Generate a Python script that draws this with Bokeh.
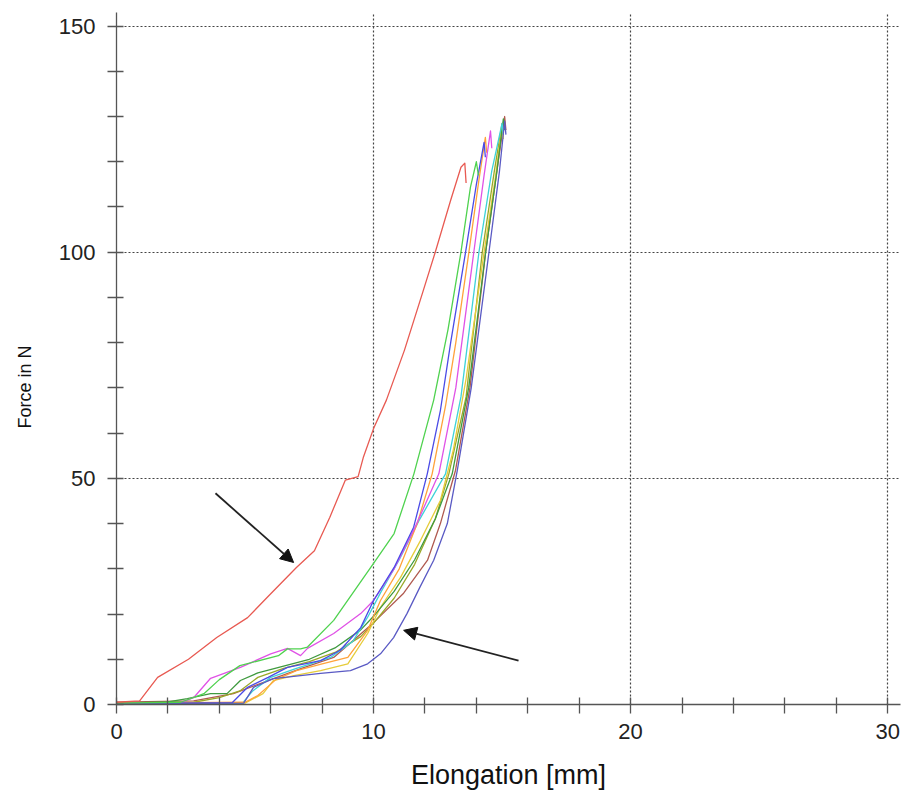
import math
from bokeh.plotting import figure
from bokeh.models import FixedTicker, Range1d, Title, Arrow, NormalHead
from bokeh.embed import file_html
from bokeh.resources import INLINE

# ---- data ----
x_ticks = [0, 10, 20, 30]
x_minor = [2, 4, 6, 8, 12, 14, 16, 18, 22, 24, 26, 28]
y_ticks = [0, 50, 100, 150]
y_minor = [10, 20, 30, 40, 60, 70, 80, 90, 110, 120, 130, 140]

red_x = [0, 0.9, 1.6, 2.8, 3.9, 5.1, 6.0, 7.0, 7.7, 8.3, 8.9, 9.4, 9.6, 10.0, 10.5, 11.2, 11.9, 12.4, 13.0, 13.4, 13.55, 13.6]
red_y = [0.5, 0.8, 6.0, 10.0, 14.8, 19.2, 24.5, 30.3, 34.0, 41.4, 49.6, 50.4, 54.6, 61.0, 67.3, 78.3, 90.9, 100.0, 111.5, 118.8, 119.7, 115.3]

green_x = [0, 2.5, 3.4, 4.0, 4.8, 6.3, 6.65, 7.16, 7.43, 8.45, 10.0, 10.8, 11.57, 12.34, 12.9, 13.4, 13.77, 14.0, 14.08]
green_y = [0.3, 0.5, 2.4, 5.5, 8.6, 10.8, 12.3, 12.3, 12.7, 18.6, 31.2, 37.8, 51.0, 67.3, 83.0, 100.0, 114.4, 120.0, 117.0]

magenta_x = [0, 2.5, 3.0, 3.66, 4.82, 6.0, 6.65, 7.16, 7.43, 8.45, 9.5, 10.0, 10.8, 11.6, 12.54, 13.2, 13.9, 14.3, 14.55, 14.6]
magenta_y = [0.2, 0.4, 1.5, 5.8, 8.2, 11.2, 12.4, 10.8, 12.4, 15.7, 20.1, 23.0, 30.0, 39.0, 51.0, 70.0, 100.0, 117.0, 126.8, 123.0]

blue_x = [0, 4.5, 5.1, 5.9, 6.65, 7.94, 8.7, 9.5, 10.0, 10.8, 11.56, 12.09, 12.6, 13.0, 13.58, 14.0, 14.3, 14.35]
blue_y = [0.2, 0.4, 3.8, 6.0, 8.2, 9.7, 12.0, 17.0, 23.0, 30.3, 39.2, 51.0, 65.0, 80.0, 100.0, 115.0, 124.3, 121.0]

orange_x = [0, 5.0, 5.5, 6.2, 7.0, 8.0, 9.0, 9.77, 10.27, 11.0, 11.7, 12.28, 12.8, 13.2, 13.71, 14.1, 14.35, 14.4]
orange_y = [0.3, 0.5, 2.0, 5.5, 7.5, 9.0, 10.4, 16.4, 23.0, 30.0, 40.0, 51.0, 66.0, 80.0, 100.0, 116.0, 125.4, 122.0]

cyan_x = [0, 4.9, 5.3, 6.0, 7.0, 8.33, 9.2, 9.77, 10.3, 11.0, 11.8, 12.8, 13.4, 14.1, 14.6, 15.0, 15.05]
cyan_y = [0.2, 0.3, 3.0, 6.0, 8.0, 10.4, 14.0, 19.3, 25.0, 32.0, 41.0, 51.0, 68.0, 100.0, 118.0, 128.5, 126.0]

dkgreen_x = [0, 2.0, 2.76, 3.66, 4.3, 4.82, 5.5, 6.5, 7.5, 8.5, 9.5, 10.0, 10.8, 11.6, 12.4, 13.06, 13.7, 14.36, 14.8, 15.05, 15.1]
dkgreen_y = [0.3, 0.6, 1.3, 2.4, 2.4, 5.3, 7.0, 8.5, 10.0, 12.5, 16.5, 19.5, 25.0, 32.0, 41.0, 51.0, 70.0, 100.0, 118.0, 129.5, 127.0]

olive_x = [0, 3.0, 4.0, 4.8, 5.5, 6.5, 7.5, 8.5, 9.5, 10.0, 10.8, 11.6, 12.4, 12.93, 13.6, 14.23, 14.7, 15.0, 15.05]
olive_y = [0.3, 0.5, 1.5, 3.0, 6.0, 8.0, 9.5, 11.5, 15.0, 18.0, 23.5, 31.0, 41.0, 51.0, 68.0, 100.0, 118.0, 128.5, 126.0]

brown_x = [0, 3.0, 4.55, 6.0, 7.2, 8.45, 10.0, 11.17, 12.1, 12.6, 13.19, 13.75, 14.36, 14.8, 15.1, 15.15]
brown_y = [0.5, 0.8, 2.4, 5.5, 8.0, 10.4, 18.1, 24.6, 31.9, 40.0, 51.8, 70.0, 100.0, 118.0, 130.0, 127.0]

yellow_x = [0, 5.0, 5.7, 6.1, 6.9, 7.94, 9.0, 9.77, 10.27, 11.05, 11.83, 12.6, 13.1, 13.6, 14.3, 14.75, 15.0, 15.05]
yellow_y = [0.2, 0.3, 2.4, 5.3, 6.4, 7.5, 9.0, 15.7, 21.5, 28.1, 36.3, 45.1, 56.2, 72.0, 100.0, 117.0, 128.0, 125.0]

navy_x = [0, 4.95, 5.33, 6.1, 7.16, 7.94, 9.1, 9.77, 10.27, 10.78, 11.3, 11.8, 12.34, 12.87, 13.26, 13.8, 14.49, 14.9, 15.1, 15.15]
navy_y = [0.2, 0.3, 3.8, 5.7, 6.4, 6.9, 7.5, 9.0, 11.2, 14.8, 20.1, 25.9, 31.9, 40.0, 51.8, 70.0, 100.0, 118.0, 129.0, 126.0]

# arrows: (start x, start y, end x, end y) in data units
arrow1 = (3.85, 46.7, 6.89, 31.4)
arrow2 = (15.64, 9.7, 11.17, 16.4)

series = [
    (brown_x, brown_y, "#b05a50"),
    (olive_x, olive_y, "#9aa828"),
    (yellow_x, yellow_y, "#e6cc3a"),
    (dkgreen_x, dkgreen_y, "#3f9a3f"),
    (cyan_x, cyan_y, "#3ed2d8"),
    (orange_x, orange_y, "#ffa23a"),
    (magenta_x, magenta_y, "#e052e6"),
    (blue_x, blue_y, "#4b4be6"),
    (navy_x, navy_y, "#5a5ac4"),
    (green_x, green_y, "#4fd24f"),
    (red_x, red_y, "#e85a52"),
]

p = figure(width=903, height=792, output_backend="svg", toolbar_location=None,
           x_range=Range1d(0, 30.5), y_range=Range1d(0, 153),
           min_border_left=116, min_border_right=3, min_border_top=12, min_border_bottom=88)
p.outline_line_color = None
p.background_fill_color = "white"
p.border_fill_color = "white"

for xs, ys, c in series:
    p.line(xs, ys, line_color=c, line_width=1.3, line_join="round")

# axes
p.xaxis.ticker = FixedTicker(ticks=x_ticks, minor_ticks=x_minor)
p.yaxis.ticker = FixedTicker(ticks=y_ticks, minor_ticks=y_minor)
for ax in (p.xaxis[0], p.yaxis[0]):
    ax.axis_line_color = "#555555"
    ax.axis_line_width = 1.3
    ax.major_tick_line_color = "#555555"
    ax.minor_tick_line_color = "#555555"
    ax.major_tick_line_width = 1.3
    ax.minor_tick_line_width = 1.3
    ax.major_tick_in = 7
    ax.major_tick_out = 9
    ax.minor_tick_in = 7
    ax.minor_tick_out = 9
    ax.major_label_text_font = "Liberation Sans"
    ax.major_label_text_font_size = "22px"
    ax.major_label_text_color = "#222222"
    ax.axis_label_text_font = "Liberation Sans"
    ax.axis_label_text_font_style = "normal"
    ax.axis_label_text_color = "#111111"

p.xaxis.major_label_standoff = 10
p.xaxis.axis_label = "Elongation [mm]"
p.xaxis.axis_label_text_font_size = "27px"
p.xaxis.axis_label_standoff = 18

p.yaxis.major_label_standoff = 12

# spacer between the y axis and its title
spacer = Title(text=" ", standoff=1, text_font_size="2px")
p.add_layout(spacer, "left")

# y-axis title, placed below the frame centre as in the reference
ytitle = Title(text="Force in N", align="left", offset=276, vertical_align="top", standoff=28,
               text_font="Liberation Sans", text_font_size="18px", text_font_style="normal",
               text_color="#111111")
p.add_layout(ytitle, "left")

# grid
p.xgrid.ticker = FixedTicker(ticks=[10, 20, 30])
p.ygrid.ticker = FixedTicker(ticks=[50, 100, 150])
for g in (p.xgrid[0], p.ygrid[0]):
    g.grid_line_color = "#444444"
    g.grid_line_dash = "2 2"
    g.grid_line_width = 1.2

for (x0, y0, x1, y1) in (arrow1, arrow2):
    p.add_layout(Arrow(x_start=x0, y_start=y0, x_end=x1, y_end=y1,
                       line_color="#222222", line_width=1.8,
                       end=NormalHead(size=13, fill_color="#111111", line_color="#111111")))

open("out.html", "w").write(file_html(p, INLINE))
